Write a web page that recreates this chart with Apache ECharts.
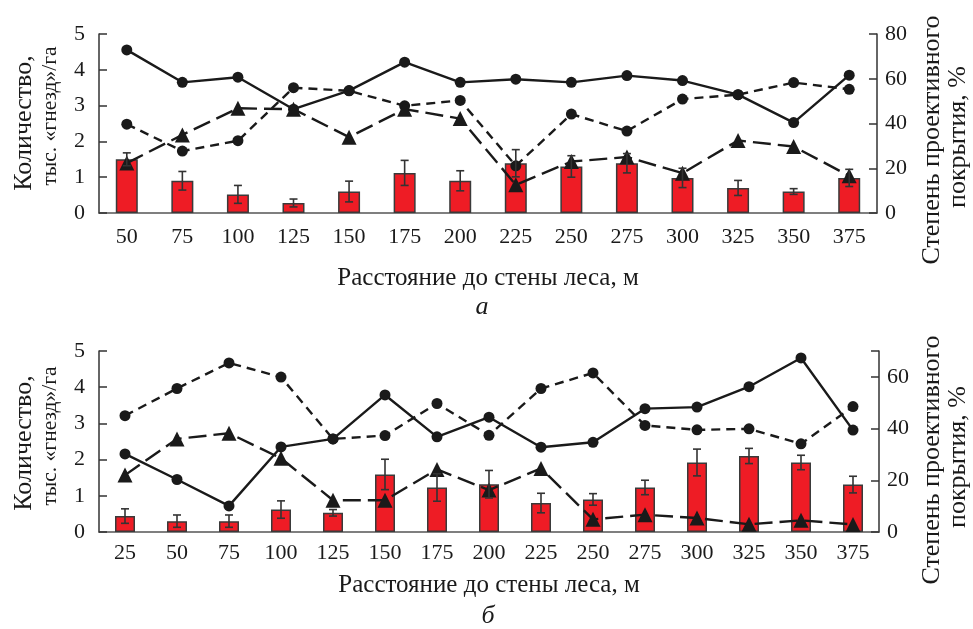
<!DOCTYPE html>
<html>
<head>
<meta charset="utf-8">
<script src="https://cdn.jsdelivr.net/npm/echarts@6/dist/echarts.min.js"></script>
<style>html,body{margin:0;padding:0;background:#fff;}#c{width:973px;height:629px;}</style>
</head>
<body>
<div id="c"></div>
<script>
// Panel a
const catsA = ['50','75','100','125','150','175','200','225','250','275','300','325','350','375'];
const barsA = [1.5,0.9,0.52,0.28,0.6,1.12,0.9,1.39,1.3,1.39,0.98,0.7,0.6,0.98];
const errA  = [0.18,0.26,0.25,0.11,0.29,0.35,0.28,0.38,0.3,0.27,0.27,0.21,0.08,0.24];
const solidA = [72.9,58.4,60.7,46.4,54.7,67.4,58.4,59.8,58.4,61.4,59.2,52.9,40.4,61.6];
const dashA  = [39.7,27.7,32.3,56.0,54.6,47.9,50.3,21.1,44.2,36.6,50.9,52.9,58.3,55.3];
const triA   = [22.3,34.9,46.8,46.4,33.9,46.4,42.2,12.6,23.0,25.0,17.8,32.4,29.7,16.6];
// Panel б
const catsB = ['25','50','75','100','125','150','175','200','225','250','275','300','325','350','375'];
const barsB = [0.44,0.3,0.3,0.62,0.53,1.59,1.23,1.32,0.8,0.9,1.23,1.92,2.1,1.92,1.31];
const errB  = [0.2,0.17,0.17,0.24,0.09,0.42,0.38,0.38,0.27,0.16,0.2,0.37,0.21,0.2,0.23];
const solidB = [30.2,20.3,10.1,32.9,36.0,53.0,36.8,44.4,32.8,34.7,47.7,48.3,56.2,67.3,39.4];
const dashB  = [45.0,55.5,65.4,59.9,36.0,37.3,49.7,37.4,55.5,61.5,41.2,39.5,39.9,34.1,48.5];
const triB   = [22.0,36.0,38.2,28.5,12.3,12.3,24.2,16.2,24.6,4.9,6.7,5.4,3.0,4.5,2.9];

const xTitle = 'Расстояние до стены леса, м';
const F = 'Liberation Serif, Times New Roman, serif';
const ink = '#1a1a1a';

function xAx(idx, cats, margin, gap){
  return {type:'category', gridIndex:idx, data:cats, boundaryGap:true,
    axisLine:{lineStyle:{color:'#555', width:1.5}}, axisTick:{show:false},
    axisLabel:{color:ink, fontFamily:F, fontSize:22, margin:margin},
    name:xTitle, nameLocation:'middle', nameGap:gap,
    nameTextStyle:{color:ink, fontFamily:F, fontSize:25}};
}
function yAx(idx, pos, max, interval, fmt){
  return {type:'value', gridIndex:idx, position:pos, min:0, max:max, interval:interval,
    splitLine:{show:false},
    axisLine:{show:true, lineStyle:{color:'#333', width:1.5}},
    axisTick:{show:true, inside:true, length:8, lineStyle:{color:'#333', width:1.5}},
    axisLabel:{color:ink, fontFamily:F, fontSize:22, margin: pos==='left'?14:8, formatter: fmt||'{value}'}};
}
function errSeries(xi, yi, vals, errs){
  return {type:'custom', xAxisIndex:xi, yAxisIndex:yi, z:5,
    data: vals.map((v,i)=>[i, v-errs[i], v+errs[i]]),
    renderItem: function(params, api){
      const lo = api.coord([api.value(0), api.value(1)]);
      const hi = api.coord([api.value(0), api.value(2)]);
      const w = 4;
      const st = {stroke:'#333', lineWidth:1.6};
      return {type:'group', children:[
        {type:'line', shape:{x1:lo[0],y1:lo[1],x2:hi[0],y2:hi[1]}, style:st},
        {type:'line', shape:{x1:lo[0]-w,y1:lo[1],x2:lo[0]+w,y2:lo[1]}, style:st},
        {type:'line', shape:{x1:hi[0]-w,y1:hi[1],x2:hi[0]+w,y2:hi[1]}, style:st}
      ]};
    }};
}
function lineS(xi, yi, data, kind){
  const s = {type:'line', xAxisIndex:xi, yAxisIndex:yi, data:data, z:4,
    lineStyle:{color:ink, width:2.4}, itemStyle:{color:ink}, symbol:'circle', symbolSize:11};
  if(kind==='dash'){ s.lineStyle.type=[9,6]; }
  if(kind==='tri'){ s.lineStyle.type=[18,7]; s.symbol='triangle'; s.symbolSize=15; }
  return s;
}
function barS(xi, yi, data, w){
  return {type:'bar', xAxisIndex:xi, yAxisIndex:yi, data:data, barWidth:w, z:2,
    itemStyle:{color:'#EE1C25', borderColor:'#3a3a3a', borderWidth:1.5}};
}
function vtext(x, y, text, size){
  return {type:'text', x:x, y:y, rotation:Math.PI/2,
    style:{text:text, fill:ink, font: size+'px '+F, textAlign:'center', textVerticalAlign:'middle'}};
}

const chart = echarts.init(document.getElementById('c'));
chart.setOption({
  animation:false,
  backgroundColor:'#fff',
  grid:[
    {left:99, right:96, top:34, height:179},
    {left:99, right:94, top:351, height:181}
  ],
  xAxis:[xAx(0,catsA,13,53), xAx(1,catsB,10,41)],
  yAxis:[
    yAx(0,'left',5,1), yAx(0,'right',80,20),
    yAx(1,'left',5,1), yAx(1,'right',70,20, v => v===70 ? '' : String(v))
  ],
  series:[
    barS(0,0,barsA,22), errSeries(0,0,barsA,errA),
    lineS(0,1,solidA,'solid'), lineS(0,1,dashA,'dash'), lineS(0,1,triA,'tri'),
    barS(1,2,barsB,20), errSeries(1,2,barsB,errB),
    lineS(1,3,solidB,'solid'), lineS(1,3,dashB,'dash'), lineS(1,3,triB,'tri')
  ],
  graphic:[
    vtext(24,123,'Количество,',26), vtext(50,116,'тыс. «гнезд»/га',21.5),
    vtext(932,140,'Степень проективного',26), vtext(958,137,'покрытия, %',26),
    vtext(24,443,'Количество,',26), vtext(50,436,'тыс. «гнезд»/га',21.5),
    vtext(932,460,'Степень проективного',26), vtext(958,457,'покрытия, %',26),
    {type:'text', x:482, y:307, style:{text:'а', fill:ink, font:'italic 26px '+F, textAlign:'center', textVerticalAlign:'middle'}},
    {type:'text', x:488, y:616, style:{text:'б', fill:ink, font:'italic 26px '+F, textAlign:'center', textVerticalAlign:'middle'}}
  ]
});
</script>
</body>
</html>
